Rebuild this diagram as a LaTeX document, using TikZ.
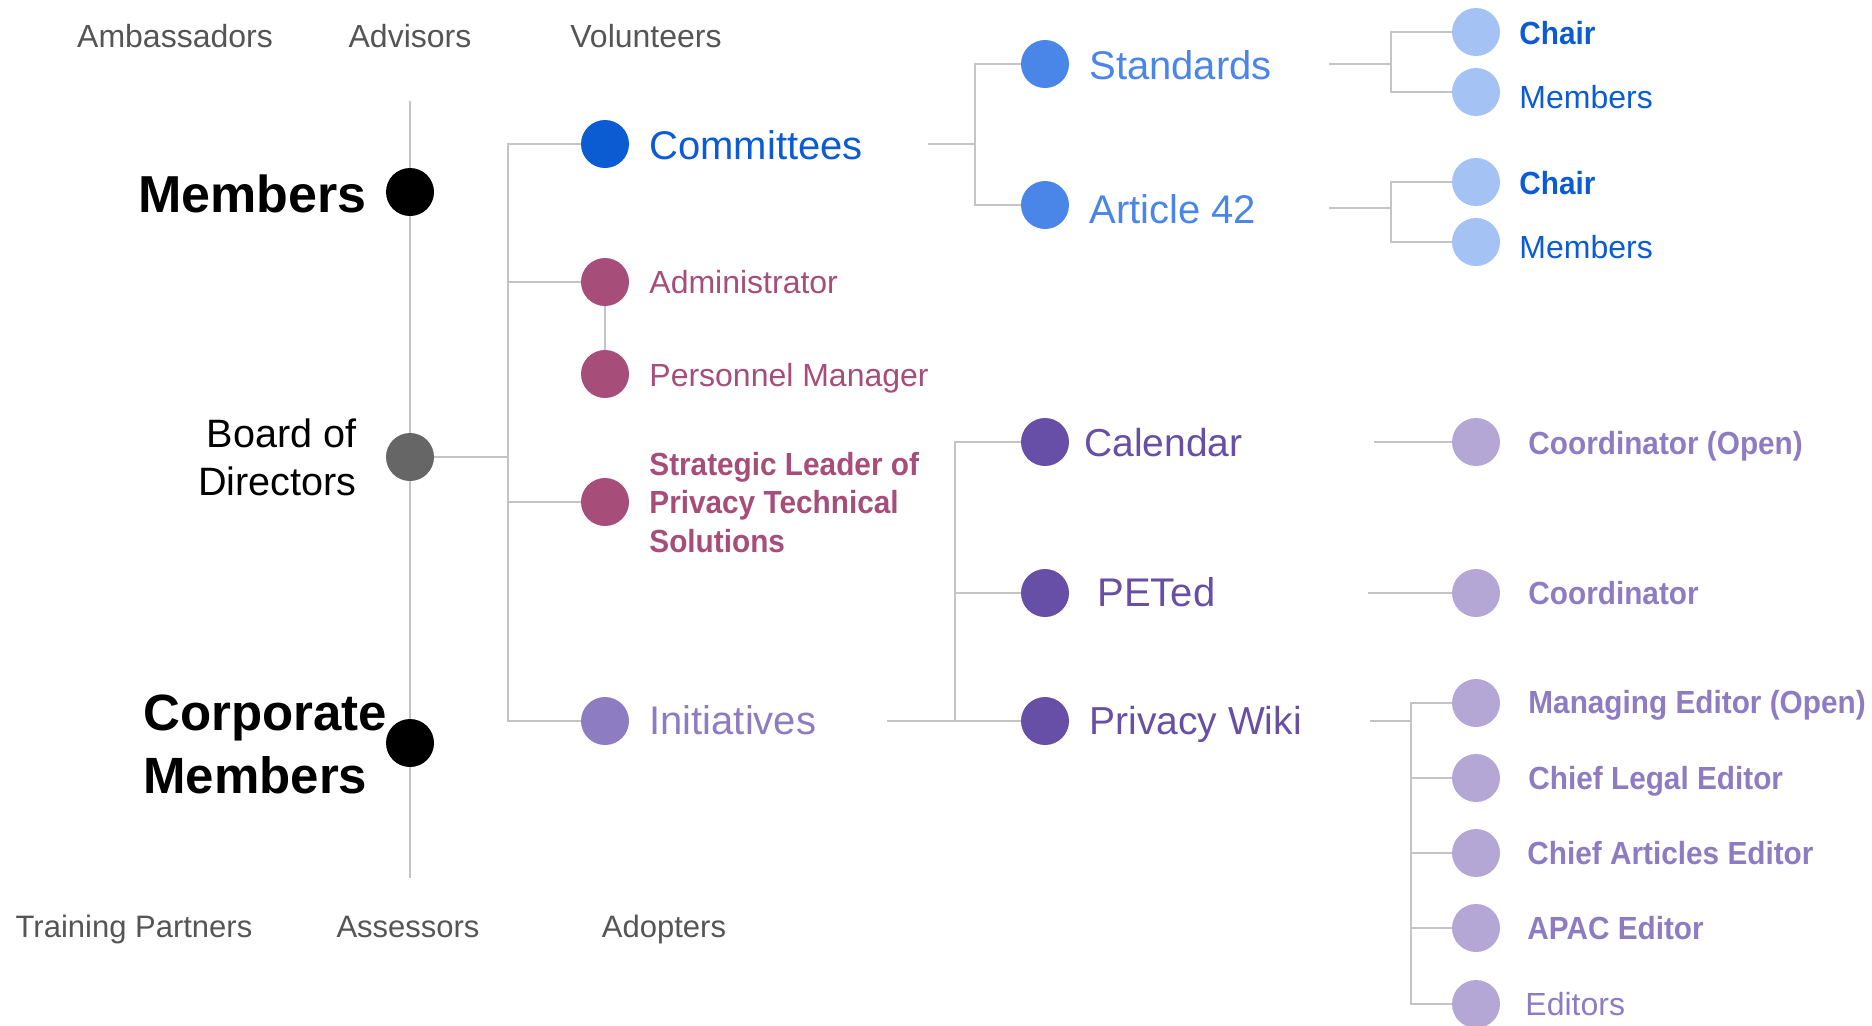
\documentclass[tikz,border=0pt]{standalone}
\usepackage{fontspec}
\setmainfont{Liberation Sans}
\newfontfamily\nbold[FakeStretch=0.93]{Liberation Sans Bold}
\usetikzlibrary{backgrounds}
\definecolor{cBlue}{HTML}{0B5BD3}
\definecolor{cBlueMid}{HTML}{4A86E8}
\definecolor{cBlueLt}{HTML}{A4C2F4}
\definecolor{cMag}{HTML}{A64D79}
\definecolor{cPur}{HTML}{674EA7}
\definecolor{cPurMid}{HTML}{8E7CC3}
\definecolor{cPurLt}{HTML}{B4A7D6}
\definecolor{cDotGray}{HTML}{666666}
\definecolor{cLblGray}{HTML}{555555}
\definecolor{cLine}{HTML}{C4C4C4}
\begin{document}
\begin{tikzpicture}[x=0.5pt,y=-0.5pt,
  dot/.style={circle, minimum size=24pt, inner sep=0pt, fill=#1},
  conn/.style={draw=cLine, line width=1.25pt},
  spine/.style={draw=cLine, line width=0.9pt},
  lbl/.style={anchor=base west, inner sep=0pt},
  toplbl/.style={anchor=base, inner sep=0pt, text=cLblGray, font=\fontsize{16pt}{18pt}\selectfont},
  botlbl/.style={anchor=base, inner sep=0pt, text=cLblGray, font=\fontsize{15.5pt}{18pt}\selectfont},
  big/.style={font=\fontsize{20pt}{24pt}\selectfont},
  small/.style={font=\fontsize{16pt}{19.25pt}\selectfont},
  smallb/.style={font=\fontsize{16pt}{19.25pt}\selectfont\nbold},
]
\useasboundingbox (0,0) rectangle (1872,1025);

% ---- dots ----
\node[dot=black] (mem) at (410,192) {};
\node[dot=cDotGray] (bod) at (410,457) {};
\node[dot=black] (corp) at (410,743) {};
\node[dot=cBlue] (com) at (605,144) {};
\node[dot=cMag] (adm) at (605,282) {};
\node[dot=cMag] (per) at (605,374) {};
\node[dot=cMag] (str) at (605,502) {};
\node[dot=cPurMid] (ini) at (605,721) {};
\node[dot=cBlueMid] (std) at (1045,64) {};
\node[dot=cBlueMid] (art) at (1045,205) {};
\node[dot=cPur] (cal) at (1045,442) {};
\node[dot=cPur] (pet) at (1045,593) {};
\node[dot=cPur] (wiki) at (1045,721) {};
\node[dot=cBlueLt] (ch1) at (1476,32) {};
\node[dot=cBlueLt] (m1) at (1476,92) {};
\node[dot=cBlueLt] (ch2) at (1476,182) {};
\node[dot=cBlueLt] (m2) at (1476,242) {};
\node[dot=cPurLt] (co1) at (1476,442) {};
\node[dot=cPurLt] (co2) at (1476,593) {};
\node[dot=cPurLt] (me) at (1476,703) {};
\node[dot=cPurLt] (cle) at (1476,778) {};
\node[dot=cPurLt] (cae) at (1476,853) {};
\node[dot=cPurLt] (apac) at (1476,928) {};
\node[dot=cPurLt] (eds) at (1476,1004) {};

% ---- junction coordinates ----
\coordinate (spT) at (410,101);
\coordinate (spB) at (410,878);
\coordinate (b1) at (508,457);
\coordinate (c1) at (928,144);
\coordinate (c2) at (975,144);
\coordinate (s1) at (1329,64);
\coordinate (s2) at (1391,64);
\coordinate (a1) at (1329,208);
\coordinate (a2) at (1391,208);
\coordinate (i1) at (887,721);
\coordinate (i2) at (955,721);
\coordinate (k1) at (1374,442);
\coordinate (p1) at (1368,593);
\coordinate (w1) at (1370,721);
\coordinate (w2) at (1411,721);

% ---- connectors ----
\begin{pgfonlayer}{background}
\draw[spine] (spT) -- (spB);
\draw[conn] (bod.center) -- (b1);
\draw[conn] (com.center) -| (b1) |- (ini.center);
\draw[conn] (adm.center) -- (adm.center -| b1);
\draw[conn] (str.center) -- (str.center -| b1);
\draw[spine] (adm) -- (per);
\draw[conn] (c1) -- (c2);
\draw[conn] (std.center) -| (c2) |- (art.center);
\draw[conn] (s1) -- (s2);
\draw[conn] (ch1.center) -| (s2) |- (m1.center);
\draw[conn] (a1) -- (a2);
\draw[conn] (ch2.center) -| (a2) |- (m2.center);
\draw[conn] (i1) -- (wiki.center);
\draw[conn] (cal.center) -| (i2);
\draw[conn] (pet.center) -- (pet.center -| i2);
\draw[conn] (k1) -- (co1.center);
\draw[conn] (p1) -- (co2.center);
\draw[conn] (w1) -- (w2);
\draw[conn] (me.center) -| (w2) |- (eds.center);
\draw[conn] (cle.center) -- (cle.center -| w2);
\draw[conn] (cae.center) -- (cae.center -| w2);
\draw[conn] (apac.center) -- (apac.center -| w2);
\end{pgfonlayer}

% ---- top / bottom gray labels ----
\node[toplbl] (tAmb) at (175,47) {Ambassadors};
\node[toplbl] (tAdv) at (410,47) {Advisors};
\node[toplbl] (tVol) at (646,47) {Volunteers};
\node[botlbl] (bTra) at (134,937) {Training Partners};
\node[botlbl] (bAss) at (408,937) {Assessors};
\node[botlbl] (bAdo) at (664,937) {Adopters};

% ---- left labels ----
\node[anchor=base east, inner sep=0pt, font=\fontsize{26pt}{31.5pt}\selectfont\bfseries] (tMem) at (367,212) {Members};
\node[anchor=base west, inner sep=0pt, font=\fontsize{25.5pt}{31.5pt}\selectfont\bfseries] (tCorp) at (143,730)
  {\begin{tabular}[t]{@{}l@{}}Corporate\\Members\end{tabular}};
\node[anchor=base east, inner sep=0pt, font=\fontsize{19.8pt}{24pt}\selectfont] (tBod) at (357,447)
  {\begin{tabular}[t]{@{}r@{}}Board of\\Directors\end{tabular}};

% ---- column 1 labels ----
\node[lbl, big, text=cBlue] (tCom) at (649,159) {Committees};
\node[lbl, small, text=cMag] (tAdm) at (649,293) {Administrator};
\node[lbl, small, text=cMag] (tPer) at (649,386) {Personnel Manager};
\node[lbl, smallb, text=cMag] (tStr) at (649,475)
  {\begin{tabular}[t]{@{}l@{}}Strategic Leader of\\Privacy Technical\\Solutions\end{tabular}};
\node[lbl, big, text=cPurMid] (tIni) at (649,734) {Initiatives};

% ---- column 2 labels ----
\node[lbl, big, text=cBlueMid] (tStd) at (1089,79) {Standards};
\node[lbl, big, text=cBlueMid] (tArt) at (1089,223) {Article 42};
\node[lbl, font=\fontsize{19.5pt}{24pt}\selectfont, text=cPur] (tCal) at (1084,456) {Calendar};
\node[lbl, big, text=cPur] (tPet) at (1097,606) {PETed};
\node[lbl, font=\fontsize{19.5pt}{24pt}\selectfont, text=cPur] (tWiki) at (1089,734) {Privacy Wiki};

% ---- column 3 labels ----
\node[lbl, smallb, text=cBlue] (tCh1) at (1519,44) {Chair};
\node[lbl, small, text=cBlue] (tM1) at (1519,108) {Members};
\node[lbl, smallb, text=cBlue] (tCh2) at (1519,194) {Chair};
\node[lbl, small, text=cBlue] (tM2) at (1519,258) {Members};
\node[lbl, smallb, text=cPurMid] (tCo1) at (1528,454) {Coordinator (Open)};
\node[lbl, smallb, text=cPurMid] (tCo2) at (1528,604) {Coordinator};
\node[lbl, smallb, text=cPurMid] (tMe) at (1528,713) {Managing Editor (Open)};
\node[lbl, smallb, text=cPurMid] (tCle) at (1528,789) {Chief Legal Editor};
\node[lbl, smallb, text=cPurMid] (tCae) at (1527,864) {Chief Articles Editor};
\node[lbl, smallb, text=cPurMid] (tApac) at (1527,939) {APAC Editor};
\node[lbl, small, text=cPurMid] (tEds) at (1525,1015) {Editors};
\end{tikzpicture}
\end{document}
